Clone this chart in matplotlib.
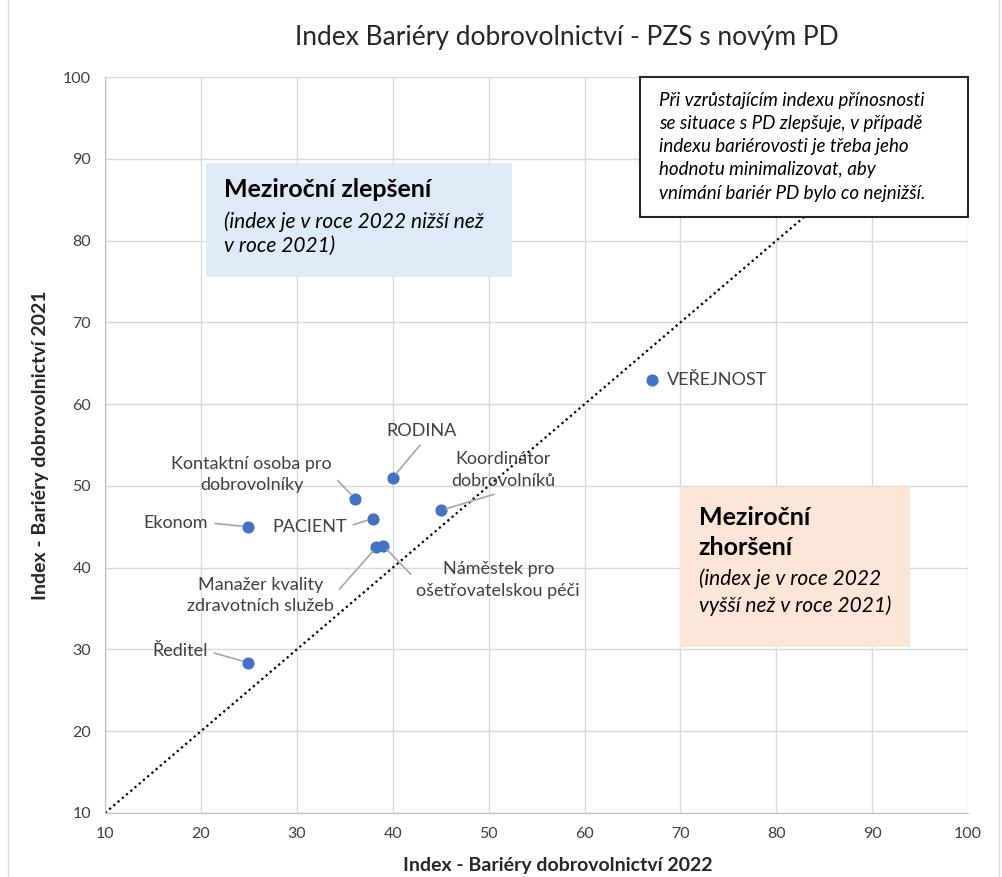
import matplotlib.pyplot as plt
from matplotlib.patches import Rectangle
from matplotlib.lines import Line2D

plt.rcParams['font.family'] = ['Lato', 'DejaVu Sans']

# data
names = ['VEŘEJNOST', 'RODINA', 'Koordinátor\ndobrovolníků', 'Kontaktní osoba pro\ndobrovolníky',
         'PACIENT', 'Ekonom', 'Manažer kvality\nzdravotních služeb', 'Náměstek pro\nošetřovatelskou péči',
         'Ředitel']
x_2022 = [67.0, 40.0, 45.0, 36.1, 37.9, 24.9, 38.3, 39.0, 24.9]
y_2021 = [62.9, 51.0, 47.0, 48.4, 46.0, 45.0, 42.5, 42.7, 28.4]
# label anchors (data coords) and where the leader leaves the label
label_pos = [(68.6, 62.9), (43.0, 56.7), (51.5, 51.9), (25.3, 51.4), (31.3, 45.0),
             (17.4, 45.5), (26.2, 36.6), (51.0, 38.5), (17.8, 29.8)]
label_rel = [None, (0.55, 0.0), (0.45, -0.1), (1.0, 0.5), (1.0, 0.5),
             (1.0, 0.5), (1.0, 0.5), (0.0, 0.5), (1.0, 0.5)]

ticks = list(range(10, 101, 10))

fig = plt.figure(figsize=(10.03, 8.77), dpi=100)
ax = fig.add_axes([0.1047, 0.073, 0.8605, 0.839])

# light chart border on the sides
fig.add_artist(Line2D([0.008, 0.008], [0, 1], color='#D9D9D9', lw=1, transform=fig.transFigure))
fig.add_artist(Line2D([0.996, 0.996], [0, 1], color='#D9D9D9', lw=1, transform=fig.transFigure))

ax.set_xlim(10, 100)
ax.set_ylim(10, 100)
ax.set_xticks(ticks)
ax.set_yticks(ticks)
ax.grid(True, color='#D9D9D9', lw=1)
ax.set_axisbelow(True)
for s in ['top', 'right']:
    ax.spines[s].set_visible(False)
for s in ['left', 'bottom']:
    ax.spines[s].set_color('#BFBFBF')
ax.tick_params(length=0, labelsize=11.5, colors='#404040', pad=10)

# diagonal y = x
ax.plot([10, 100], [10, 100], ls=(0, (1, 1.5)), color='black', lw=1.6, zorder=2)

ax.scatter(x_2022, y_2021, s=60, color='#4472C4', zorder=4)

for i, name in enumerate(names):
    tx, ty = label_pos[i]
    if label_rel[i] is None:
        ax.text(tx, ty, name, ha='left', va='center', fontsize=13, color='#404040', zorder=5)
    else:
        ax.annotate(name, xy=(x_2022[i], y_2021[i]), xytext=(tx, ty), ha='center', va='center',
                    fontsize=13, color='#404040', linespacing=1.45, zorder=5,
                    arrowprops=dict(arrowstyle='-', color='#A6A6A6', lw=1.2,
                                    shrinkA=3, shrinkB=4, relpos=label_rel[i]))

# blue box - improvement
ax.add_patch(Rectangle((20.5, 75.6), 31.9, 13.9, facecolor='#DEEBF7', edgecolor='none', zorder=3))
ax.text(22.4, 86.3, 'Meziroční zlepšení', fontsize=18, fontweight='bold', color='black',
        va='center', zorder=4)
ax.text(22.4, 82.3, '(index je v roce 2022 nižší než', fontsize=15, style='italic',
        color='black', va='center', zorder=4)
ax.text(22.4, 79.4, 'v roce 2021)', fontsize=15, style='italic', color='black', va='center', zorder=4)

# orange box - deterioration
ax.add_patch(Rectangle((70.0, 30.3), 23.9, 19.6, facecolor='#FBE5D6', edgecolor='none', zorder=3))
ax.text(71.9, 46.2, 'Meziroční', fontsize=18, fontweight='bold', color='black', va='center', zorder=4)
ax.text(71.9, 42.5, 'zhoršení', fontsize=18, fontweight='bold', color='black', va='center', zorder=4)
ax.text(71.9, 38.6, '(index je v roce 2022', fontsize=15, style='italic', color='black',
        va='center', zorder=4)
ax.text(71.9, 35.4, 'vyšší než v roce 2021)', fontsize=15, style='italic', color='black',
        va='center', zorder=4)

# note box
ax.add_patch(Rectangle((65.8, 82.9), 34.2, 17.1, facecolor='white', edgecolor='#262626', lw=1.5,
                       zorder=6, clip_on=False))
note = ['Při vzrůstajícím indexu přínosnosti', 'se situace s PD zlepšuje, v případě',
        'indexu bariérovosti je třeba jeho', 'hodnotu minimalizovat, aby',
        'vnímání bariér PD bylo co nejnižší.']
for k, line in enumerate(note):
    ax.text(67.8, 97.2 - k * 2.85, line, fontsize=13.5, style='italic', color='black',
            va='center', zorder=7)

ax.set_xlabel('Index - Bariéry dobrovolnictví 2022', fontsize=14, fontweight='bold',
              color='#262626')
ax.xaxis.set_label_coords(0.524, -0.06)
ax.set_ylabel('Index - Bariéry dobrovolnictví 2021', fontsize=14, fontweight='bold',
              color='#262626', labelpad=10)
fig.text(0.565, 0.957, 'Index Bariéry dobrovolnictví - PZS s novým PD', ha='center', va='center',
         fontsize=19, color='#262626')

fig.savefig('out.png', dpi=100)
